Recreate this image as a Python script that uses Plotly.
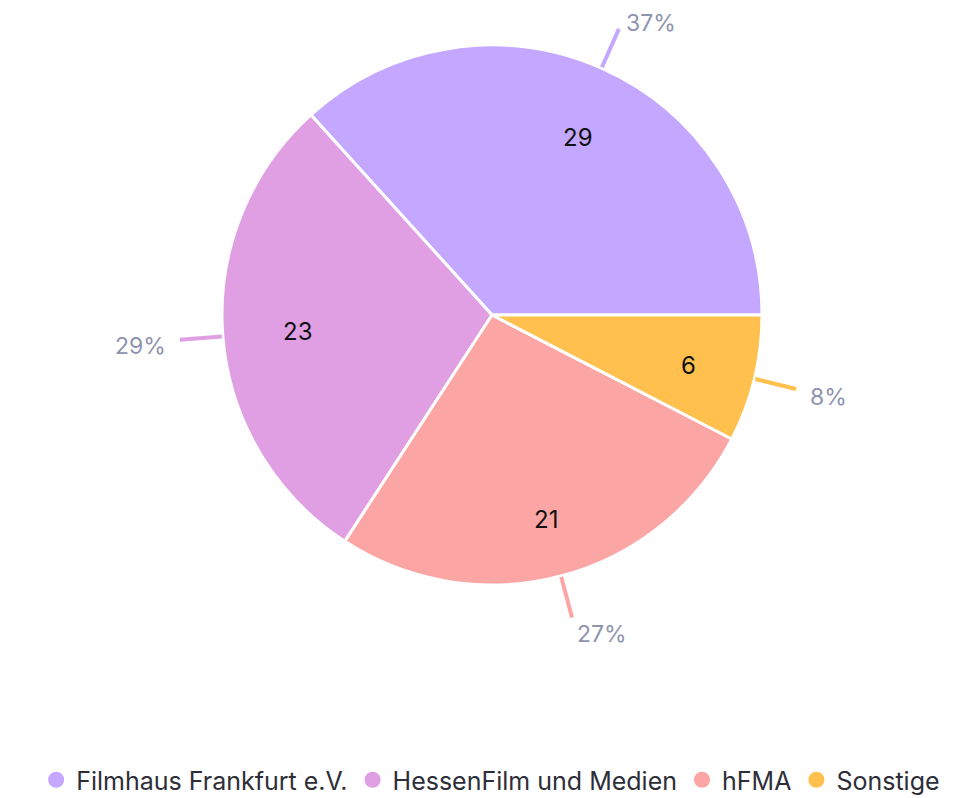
import math
import plotly.graph_objects as go

categories = ["Filmhaus Frankfurt e.V.", "HessenFilm und Medien", "hFMA", "Sonstige"]
values = [29, 23, 21, 6]
colors = ["#C4A7FF", "#E09FE3", "#FCA5A5", "#FFC04D"]

W, H = 977, 798
CX, CY, R = 484, 307, 270  # pie centre / radius in figure pixels (layout)

total = sum(values)
first_angle = 360 * values[0] / total

fig = go.Figure()
fig.add_trace(go.Pie(
    labels=categories, values=values, sort=False, direction="counterclockwise",
    rotation=90 - first_angle, textinfo="none", hoverinfo="label+value+percent",
    marker=dict(colors=colors, line=dict(color="white", width=3)),
    showlegend=False,
    domain=dict(x=[(CX - R) / W, (CX + R) / W], y=[1 - (CY + R) / H, 1 - (CY - R) / H]),
))

font = "Inter, Roboto, Arial, sans-serif"
start = 0.0
shapes, annos = [], []
for v, c in zip(values, colors):
    ang = math.radians(start + v / total * 360 / 2)
    start += v / total * 360
    ca, sa = math.cos(ang), math.sin(ang)
    px = lambda r: (CX + r * ca) / W
    py = lambda r: 1 - (CY - r * sa) / H
    # value label inside the slice
    annos.append(dict(x=px(212), y=py(212), xref="paper", yref="paper", text=str(v),
                      showarrow=False, font=dict(family=font, size=24, color="#111111")))
    # leader line
    shapes.append(dict(type="line", xref="paper", yref="paper", x0=px(271), y0=py(271),
                       x1=px(313), y1=py(313), line=dict(color=c, width=4)))
    pct = round(v / total * 100)
    xa = "left" if ca > 0 else "right"
    annos.append(dict(x=px(325), y=py(325), xref="paper", yref="paper", text=f"{pct}%",
                      showarrow=False, xanchor=xa, yanchor="middle", yshift=-5,
                      font=dict(family=font, size=23, color="#8E93AE")))

# legend entries with circle symbols
for cat, c in zip(categories, colors):
    fig.add_trace(go.Scatter(x=[None], y=[None], mode="markers", name=cat,
                             marker=dict(symbol="circle", size=24, color=c), hoverinfo="skip"))

fig.update_layout(
    width=W, height=H, margin=dict(l=0, r=0, t=0, b=0),
    paper_bgcolor="white", plot_bgcolor="white",
    xaxis=dict(visible=False), yaxis=dict(visible=False),
    shapes=shapes, annotations=annos,
    legend=dict(orientation="h", x=0.494, xanchor="center", y=1 - 772 / H, yanchor="middle",
                font=dict(family=font, size=25, color="#2E2E38"),
                itemsizing="trace", tracegroupgap=0),
)
fig.write_html("out.html")
